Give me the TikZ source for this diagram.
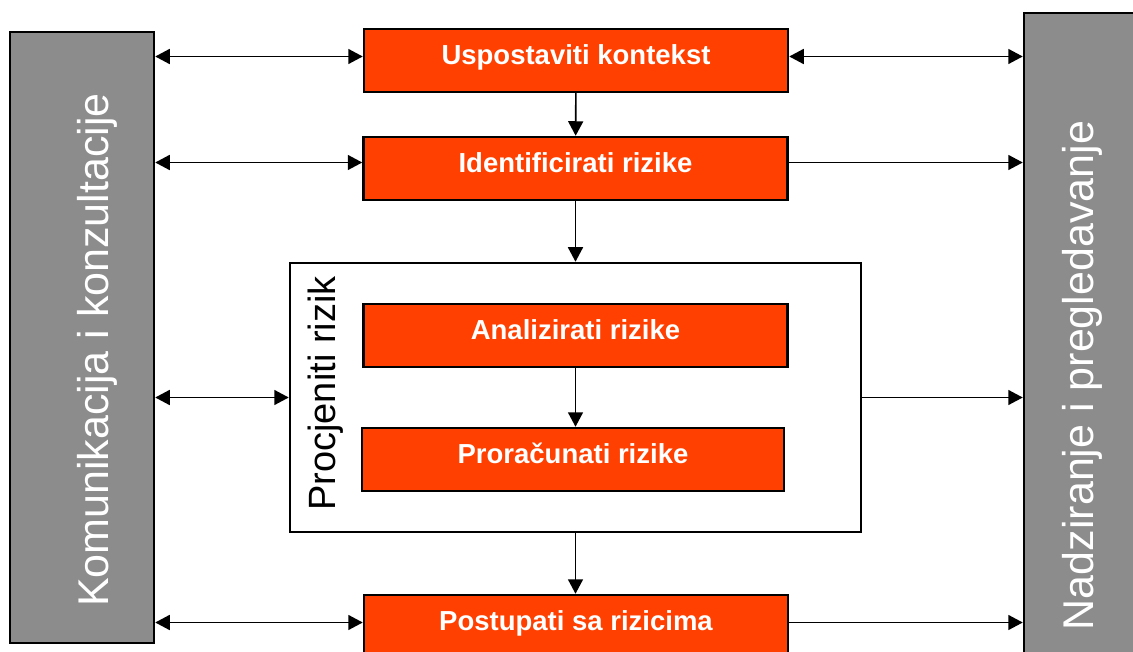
\documentclass[tikz,border=0pt]{standalone}
\usepackage{fontspec}
\setmainfont{Liberation Sans}
\usepackage{tikz}
\usepackage{xcolor}
\usetikzlibrary{arrows.meta}
\definecolor{riskorange}{HTML}{FF4000}
\definecolor{bargray}{HTML}{8C8C8C}
\tikzstyle{process} = [rectangle, minimum width=424pt, minimum height=63pt, text centered, draw=black, line width=2.5pt, fill=riskorange, text=white, font=\bfseries\fontsize{27.5}{32}\selectfont, text height=19.5pt, text depth=12pt]
\tikzstyle{sidebar} = [rectangle, minimum width=144pt, draw=black, line width=2.5pt, fill=bargray]
\tikzstyle{sidetext} = [rotate=90, anchor=base, text=white, font=\fontsize{43}{50}\selectfont]
\tikzstyle{frame} = [rectangle, minimum width=571pt, minimum height=269pt, draw=black, line width=2.5pt]
\tikzstyle{arrow} = [line width=1.6pt,-{Triangle[length=14.5pt,width=15pt]}]
\tikzstyle{twoway} = [line width=1.6pt,{Triangle[length=14.5pt,width=15pt]}-{Triangle[length=14.5pt,width=15pt]}]

\begin{document}
\begin{tikzpicture}[x=1pt, y=-1pt, node distance=108pt]
        \useasboundingbox (0,0) rectangle (1133,652);
        \node (kom) [sidebar, minimum height=611pt] at (82,337.5) {};
        \node (nad) [sidebar, minimum height=660pt] at (1096,343) {};
        \node (komtext) [sidetext] at (108,350) {Komunikacija i konzultacije};
        \node (nadtext) [sidetext] at (1093,375.5) {Nadziranje i pregledavanje};
        \node (procj) [frame] at (575.5,397.5) {};
        \node (procjtext) [rotate=90, anchor=base, font=\fontsize{38}{44}\selectfont] at (335,393.5) {Procjeniti rizik};
        \node (usp) [process] at (576,60.5) {Uspostaviti kontekst};
        \node (ident) [process, below of=usp, xshift=-0.5pt] {Identificirati rizike};
        \node (anal) [process, below of=ident, yshift=-59pt] {Analizirati rizike};
        \node (prorac) [process, below of=anal, yshift=-16pt, xshift=-2.5pt, minimum width=422pt] {Proračunati rizike};
        \node (postup) [process, below of=prorac, yshift=-59pt, xshift=3pt] {Postupati sa rizicima};

        \draw [twoway] ([yshift=4pt]kom.east |- usp.west) -- ([yshift=4pt]usp.west);
        \draw [twoway] ([yshift=4pt]usp.east) -- ([yshift=4pt]nad.west |- usp.east);
        \draw [twoway] ([yshift=6pt]kom.east |- ident.west) -- ([yshift=6pt]ident.west);
        \draw [arrow] ([yshift=6pt]ident.east) -- ([yshift=6pt]nad.west |- ident.east);
        \draw [twoway] (kom.east |- procj.west) -- (procj.west);
        \draw [arrow] (procj.east) -- (nad.west |- procj.east);
        \draw [twoway] ([yshift=4pt]kom.east |- postup.west) -- ([yshift=4pt]postup.west);
        \draw [arrow] ([yshift=4pt]postup.east) -- ([yshift=4pt]nad.west |- postup.east);
        \draw [arrow] (usp) -- (ident);
        \draw [arrow] (ident.south) -- (procj.north -| ident.south);
        \draw [arrow] (anal.south) -- (anal.south |- prorac.north);
        \draw [arrow] (procj.south) -- (procj.south |- postup.north);
    \end{tikzpicture}
\end{document}
